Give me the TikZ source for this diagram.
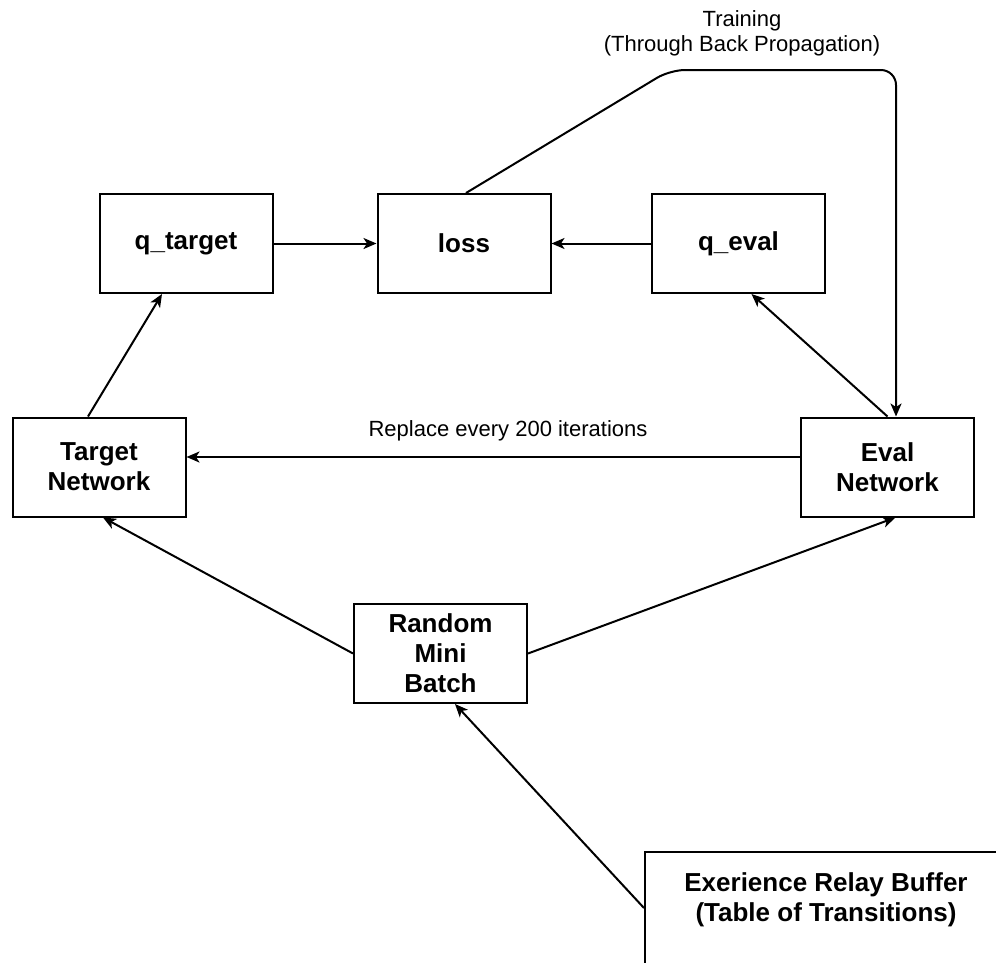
\documentclass[tikz,border=0pt]{standalone}
\usepackage{fontspec}
\setmainfont{Liberation Sans}
\usetikzlibrary{arrows.meta}

\begin{document}
\begin{tikzpicture}[x=1pt, y=-1pt, line width=2pt, >={Stealth[length=13pt,width=11pt,inset=3.5pt]}]
            \tikzstyle{block}=[draw,rectangle,minimum width=173pt,minimum height=99pt,inner sep=0pt,align=center,font=\fontsize{26}{30}\selectfont\bfseries]
            \tikzstyle{lbl}=[align=center,font=\fontsize{22}{25}\selectfont]
            \useasboundingbox (0,0) rectangle (996,962);
            \clip (0,0) rectangle (996,962);

            \node[block] (q_target)   at (186,243.5)   {q\_target};
            \node[block] (loss)       at (464,243.5)   {loss};
            \node[block] (q_eval)     at (738.5,243.5) {q\_eval};
            \node[block] (target_net) at (99,467)      {Target\\Network};
            \node[block] (eval_net)   at (887.5,467)   {Eval\\Network};
            \node[block] (batch)      at (440.5,653.5) {Random\\Mini\\Batch};
            \node[block, minimum width=362pt, minimum height=118pt] (buffer) at (826,911) {};
            \node[lbl, font=\fontsize{26}{30}\selectfont\bfseries] (buffer_txt) at (826,900) {Exerience Relay Buffer\\(Table of Transitions)};

            \node[lbl] (train_lbl)   at (742,33)  {Training\\(Through Back Propagation)};
            \node[lbl] (replace_lbl) at (508,431) {Replace every 200 iterations};
            \coordinate (bend_1) at (670,70);
            \coordinate (bend_2) at (896,70);

            \draw[->] (q_target) -- (loss);
            \draw[->] (q_eval) -- (loss);
            \draw[->] ([xshift=-11pt]target_net.north) -- ([xshift=-24pt]q_target.south);
            \draw[->] (eval_net.north) -- ([xshift=13pt]q_eval.south);
            \draw[->, rounded corners=15pt] ([xshift=2pt]loss.north) -- (bend_1) -- (bend_2) -- (eval_net.north -| bend_2);
            \draw[->] ([yshift=10pt]eval_net.west) -- ([yshift=10pt]target_net.east);
            \draw[->] (batch.west) -- ([xshift=4pt]target_net.south);
            \draw[->] (batch.east) -- ([xshift=8pt]eval_net.south);
            \draw[->] ([yshift=3pt]buffer.west) -- ([xshift=14.5pt]batch.south);
        \end{tikzpicture}
\end{document}
